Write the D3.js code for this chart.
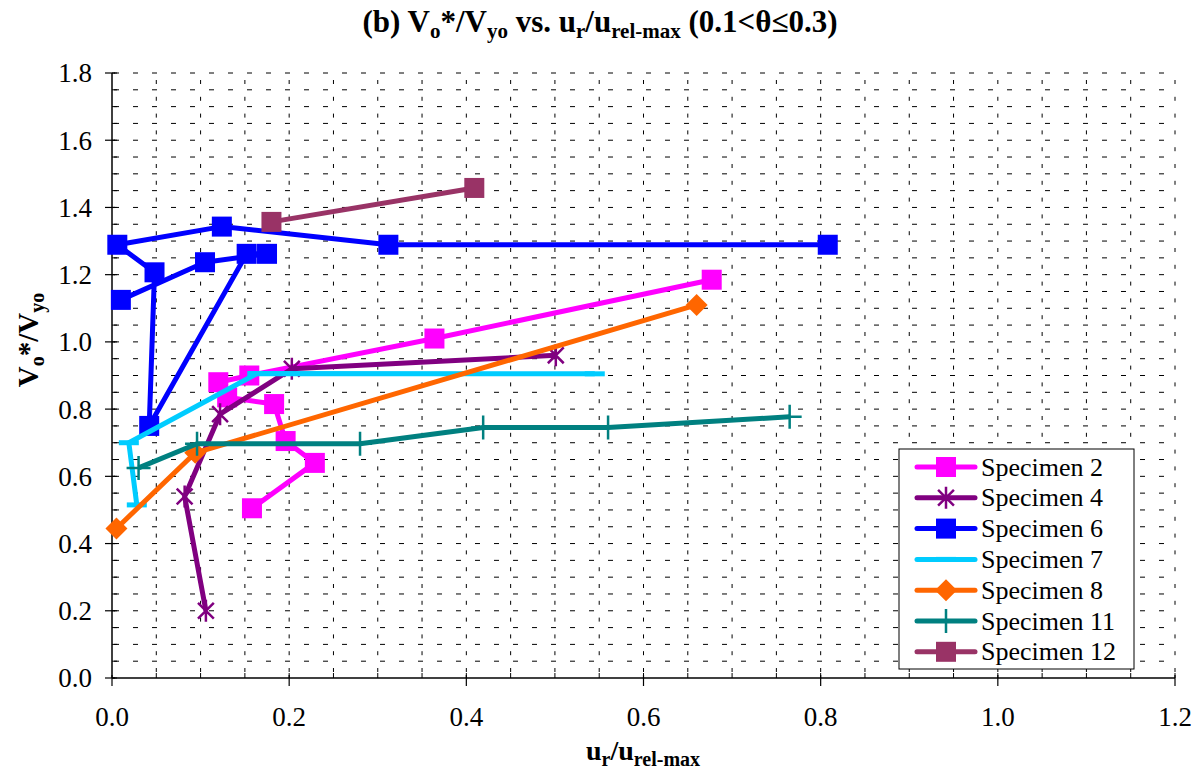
<!DOCTYPE html>
<html><head><meta charset="utf-8">
<script src="https://cdn.jsdelivr.net/npm/d3@7/dist/d3.min.js"></script>
<style>body{margin:0;background:#fff;}</style>
</head><body><svg id="chart" width="1196" height="778" font-family="'Liberation Serif', 'Times New Roman', serif"></svg>
<script>
const seriesNames = ["Specimen 2","Specimen 4","Specimen 6","Specimen 7","Specimen 8","Specimen 11","Specimen 12"];
const spec2 = [[0.158,0.505],[0.229,0.64],[0.196,0.705],[0.183,0.815],[0.13,0.835],[0.12,0.88],[0.155,0.90],[0.364,1.01],[0.677,1.185]];
const spec4 = [[0.106,0.20],[0.082,0.54],[0.122,0.785],[0.203,0.92],[0.501,0.96]];
const spec6 = [[0.010,1.125],[0.105,1.237],[0.175,1.262],[0.152,1.262],[0.042,0.75],[0.048,1.207],[0.006,1.289],[0.124,1.343],[0.312,1.289],[0.808,1.289]];
const spec7 = [[0.028,0.515],[0.019,0.70],[0.164,0.906],[0.545,0.905]];
const spec8 = [[0.005,0.445],[0.094,0.67],[0.66,1.11]];
const spec11 = [[0.030,0.625],[0.096,0.697],[0.28,0.697],[0.419,0.745],[0.56,0.745],[0.765,0.777]];
const spec12 = [[0.18,1.357],[0.409,1.458]];
const seriesData = [spec2,spec4,spec6,spec7,spec8,spec11,spec12];
const seriesColors = ["#FF00FF","#800080","#0000FF","#00CCFF","#FF6600","#008080","#993366"];
const seriesMarkers = ["square","asterisk","square","dash","diamond","plus","square"];
const xTicks = [0,0.2,0.4,0.6,0.8,1.0,1.2];
const yTicks = [0,0.2,0.4,0.6,0.8,1.0,1.2,1.4,1.6,1.8];

const svg = d3.select("#chart");
const x = d3.scaleLinear().domain([0,1.2]).range([112,1175]);
const y = d3.scaleLinear().domain([0,1.8]).range([678,73]);

// grid
const minorX = d3.range(1,25).map(i=>i*0.05);
const minorY = d3.range(1,37).map(i=>i*0.05);
const g = svg.append("g");
g.selectAll("line.h").data(minorY).enter().append("line")
  .attr("x1",x(0)).attr("x2",x(1.2)).attr("y1",d=>y(d)).attr("y2",d=>y(d))
  .attr("stroke","#000").attr("stroke-width",1).attr("stroke-dasharray","5,14").attr("stroke-dashoffset",-2);
g.selectAll("line.v").data(minorX).enter().append("line")
  .attr("y1",y(0)).attr("y2",y(1.8)).attr("x1",d=>x(d)).attr("x2",d=>x(d))
  .attr("stroke","#000").attr("stroke-width",1).attr("stroke-dasharray","4,12.8").attr("stroke-dashoffset",-6);

// axes
const ax = svg.append("g");
ax.append("line").attr("x1",x(0)).attr("x2",x(0)).attr("y1",y(0)).attr("y2",y(1.8)).attr("stroke","#000").attr("stroke-width",1.5);
ax.append("line").attr("x1",x(0)).attr("x2",x(1.2)).attr("y1",y(0)).attr("y2",y(0)).attr("stroke","#000").attr("stroke-width",1.5);
ax.selectAll("line.ym").data(minorY.concat([0])).enter().append("line")
  .attr("x1",x(0)).attr("x2",x(0)+5).attr("y1",d=>y(d)).attr("y2",d=>y(d)).attr("stroke","#000");
ax.selectAll("line.yM").data(yTicks).enter().append("line")
  .attr("x1",x(0)-7).attr("x2",x(0)+3).attr("y1",d=>y(d)).attr("y2",d=>y(d)).attr("stroke","#000").attr("stroke-width",1.2);
ax.selectAll("line.xm").data(minorX).enter().append("line")
  .attr("x1",d=>x(d)).attr("x2",d=>x(d)).attr("y1",y(0)).attr("y2",y(0)-5).attr("stroke","#000");
ax.selectAll("line.xM").data(xTicks).enter().append("line")
  .attr("x1",d=>x(d)).attr("x2",d=>x(d)).attr("y1",y(0)-3).attr("y2",y(0)+8).attr("stroke","#000").attr("stroke-width",1.2);
ax.selectAll("text.yt").data(yTicks).enter().append("text")
  .attr("x",92).attr("y",d=>y(d)).attr("dy","0.35em").attr("text-anchor","end")
  .attr("font-size",27).text(d=>d3.format(".1f")(d));
ax.selectAll("text.xt").data(xTicks).enter().append("text")
  .attr("x",d=>x(d)).attr("y",717).attr("dy","0.35em").attr("text-anchor","middle")
  .attr("font-size",27).text(d=>d3.format(".1f")(d));

// titles with subscripts
function rich(textSel, parts, size, subSize){
  parts.forEach(p=>{
    const t = textSel.append("tspan").text(p[0]);
    if(p[1]){ t.attr("font-size",subSize).attr("dy",6);} else { t.attr("font-size",size); if(p[2]) t.attr("dy",-6);}
  });
}
rich(svg.append("text").attr("x",600).attr("y",32).attr("text-anchor","middle").attr("font-weight","bold"),
  [["(b) V",0],["o",1],["*/V",0,1],["yo",1],[" vs. u",0,1],["r",1],["/u",0,1],["rel-max",1],[" (0.1<θ≤0.3)",0,1]], 31, 21);
rich(svg.append("text").attr("x",643).attr("y",760).attr("text-anchor","middle").attr("font-weight","bold"),
  [["u",0],["r",1],["/u",0,1],["rel-max",1]], 28, 20);
rich(svg.append("text").attr("transform","translate(38,340) rotate(-90)").attr("text-anchor","middle").attr("font-weight","bold"),
  [["V",0],["o",1],["*/V",0,1],["yo",1]], 29, 20);

// markers
function drawMarker(sel, type, color, cx, cy){
  if(type==="square"){
    sel.append("rect").attr("x",cx-10).attr("y",cy-10).attr("width",20).attr("height",20).attr("fill",color);
  } else if(type==="diamond"){
    sel.append("path").attr("d",`M${cx},${cy-11}L${cx+11},${cy}L${cx},${cy+11}L${cx-11},${cy}Z`).attr("fill",color);
  } else if(type==="asterisk"){
    const r=11, d=r*0.72;
    sel.append("path").attr("d",`M${cx},${cy-r}V${cy+r}M${cx-d},${cy-d}L${cx+d},${cy+d}M${cx-d},${cy+d}L${cx+d},${cy-d}`)
      .attr("stroke",color).attr("stroke-width",2.5).attr("fill","none");
  } else if(type==="plus"){
    sel.append("path").attr("d",`M${cx},${cy-12}V${cy+12}M${cx-12},${cy}H${cx+12}`)
      .attr("stroke",color).attr("stroke-width",2.5).attr("fill","none");
  } else if(type==="dash"){
    sel.append("path").attr("d",`M${cx-10},${cy}H${cx+10}`)
      .attr("stroke",color).attr("stroke-width",5).attr("fill","none");
  }
}

const line = d3.line().x(d=>x(d[0])).y(d=>y(d[1]));
seriesData.forEach((data,i)=>{
  const sg = svg.append("g");
  sg.append("path").datum(data).attr("d",line).attr("fill","none")
    .attr("stroke",seriesColors[i]).attr("stroke-width",5).attr("stroke-linejoin","round");
  data.forEach(d=>drawMarker(sg, seriesMarkers[i], seriesColors[i], x(d[0]), y(d[1])));
});

// legend
const lg = svg.append("g");
lg.append("rect").attr("x",899).attr("y",449).attr("width",235).attr("height",220).attr("fill","#fff").attr("stroke","#000").attr("stroke-width",1);
seriesNames.forEach((n,i)=>{
  const cy = 467 + i*30.8;
  lg.append("line").attr("x1",917).attr("x2",975).attr("y1",cy).attr("y2",cy)
    .attr("stroke",seriesColors[i]).attr("stroke-width",5).attr("stroke-linecap","round");
  drawMarker(lg, seriesMarkers[i], seriesColors[i], 946, cy);
  lg.append("text").attr("x",981).attr("y",cy).attr("dy","0.33em").attr("font-size",26).text(n);
});
</script></body></html>
